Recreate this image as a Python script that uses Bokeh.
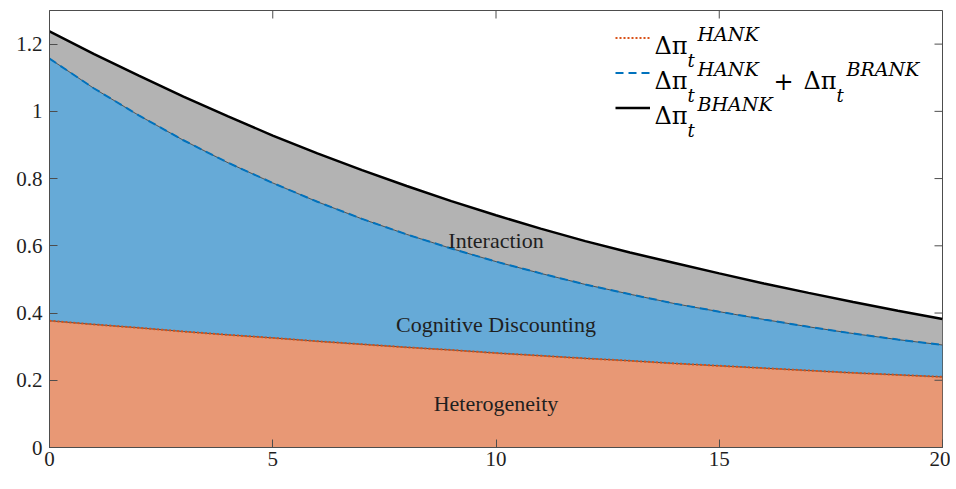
import math
from bokeh.plotting import figure
from bokeh.models import (Range1d, FixedTicker, LinearAxis, Legend, LegendItem,
                          Label, ColumnDataSource)
from bokeh.embed import file_html
from bokeh.resources import INLINE

# ---------------- data ----------------
t = list(range(0, 21))
hank = [0.377, 0.366, 0.356, 0.345, 0.335, 0.326, 0.316, 0.307, 0.298, 0.290,
        0.281, 0.273, 0.265, 0.258, 0.250, 0.243, 0.236, 0.229, 0.222, 0.216, 0.210]
hank_brank = [1.157, 1.068, 0.988, 0.914, 0.847, 0.787, 0.731, 0.680, 0.634, 0.592,
              0.553, 0.518, 0.485, 0.456, 0.428, 0.404, 0.381, 0.359, 0.339, 0.321, 0.305]
bhank = [1.238, 1.170, 1.106, 1.044, 0.985, 0.928, 0.875, 0.825, 0.778, 0.733,
         0.691, 0.651, 0.614, 0.580, 0.549, 0.518, 0.488, 0.460, 0.433, 0.407, 0.382]
base = [0.0] * len(t)

xticks = [0, 5, 10, 15, 20]
yticks = [0, 0.2, 0.4, 0.6, 0.8, 1, 1.2]
ytick_labels = ["0", "0.2", "0.4", "0.6", "0.8", "1", "1.2"]

area_labels = ["Heterogeneity", "Cognitive Discounting", "Interaction"]
area_label_x = [10, 10, 10]
area_label_y = [0.132, 0.365, 0.615]

# ---------------- styling ----------------
FW, FH = 893, 437
XMAX, YMAX = 20, 1.3
AX = "#4d4d4d"
TXT = "#1f1f1f"
TICK_FONT = "Liberation Serif, serif"
MATH_FONT = "DejaVu Serif, serif"

src = ColumnDataSource(dict(t=t, hank=hank, hb=hank_brank, bh=bhank, base=base))

p = figure(frame_width=FW, frame_height=FH,
           x_range=Range1d(0, XMAX), y_range=Range1d(0, YMAX),
           output_backend="svg", toolbar_location=None,
           min_border_left=49, min_border_right=8, min_border_top=10,
           min_border_bottom=34, x_axis_type=None, y_axis_type=None)
p.background_fill_color = "white"
p.border_fill_color = "white"
p.outline_line_color = AX
p.outline_line_width = 1
p.xgrid.visible = False
p.ygrid.visible = False


def style_axis(ax, ticks, standoff):
    ax.ticker = FixedTicker(ticks=ticks)
    ax.major_tick_in = 8
    ax.major_tick_out = 0
    ax.minor_tick_in = 0
    ax.minor_tick_out = 0
    ax.axis_line_color = AX
    ax.major_tick_line_color = AX
    ax.major_label_standoff = standoff
    ax.major_label_text_font = TICK_FONT
    ax.major_label_text_font_size = "21px"
    ax.major_label_text_color = TXT


xb = LinearAxis()
style_axis(xb, xticks, 4)
p.add_layout(xb, "below")
yl = LinearAxis()
style_axis(yl, yticks, 7)
yl.major_label_overrides = {k: v for k, v in zip(yticks, ytick_labels)}
p.add_layout(yl, "left")

# areas
p.varea(x="t", y1="base", y2="hank", source=src, fill_color="#E89875")
p.varea(x="t", y1="hank", y2="hb", source=src, fill_color="#66AAD7")
p.varea(x="t", y1="hb", y2="bh", source=src, fill_color="#B3B3B3")
# patch edges
p.line(x="t", y="hank", source=src, line_color="#333333", line_width=0.8)
p.line(x="t", y="hb", source=src, line_color="#333333", line_width=0.8)

# series lines
r_hank = p.line(x="t", y="hank", source=src, line_color="#D95319",
                line_width=2, line_dash="2 2")
r_hb = p.line(x="t", y="hb", source=src, line_color="#0072BD",
              line_width=2, line_dash="8 5")
r_bh = p.line(x="t", y="bh", source=src, line_color="#000000", line_width=2.5)

# inward ticks on the top and right edges of the box
p.ray(x=xticks, y=[YMAX] * len(xticks), length=8, length_units="screen",
      angle=-math.pi / 2, line_color=AX, line_width=1)
p.ray(x=[XMAX] * len(yticks), y=yticks, length=8, length_units="screen",
      angle=math.pi, line_color=AX, line_width=1)

# area labels
for txt, lx, ly in zip(area_labels, area_label_x, area_label_y):
    p.add_layout(Label(x=lx, y=ly, text=txt, text_font=TICK_FONT,
                       text_font_size="22px", text_color=TXT,
                       text_align="center", text_baseline="alphabetic"))

# legend (samples)
ROW = 35
LEG_TOP = 10
legend = Legend(items=[LegendItem(label=" ", renderers=[r_hank]),
                       LegendItem(label=" ", renderers=[r_hb]),
                       LegendItem(label=" ", renderers=[r_bh])],
                location=(566, FH - LEG_TOP - 3 * ROW),
                glyph_width=35, glyph_height=ROW, label_height=ROW,
                label_width=0, label_standoff=0, spacing=0, padding=0, margin=0,
                label_text_font_size="1px",
                background_fill_alpha=0, border_line_alpha=0)
p.add_layout(legend, "center")


def dx(px):
    return px / FW * XMAX


def dy(px):
    return YMAX * (1 - px / FH)


def mlabel(px, py, text, size, style="normal"):
    p.add_layout(Label(x=dx(px), y=dy(py), text=text, text_font=MATH_FONT,
                       text_font_size=size, text_font_style=style,
                       text_color="#000000", text_align="left",
                       text_baseline="alphabetic"))


sups = [["HANK"], ["HANK", "BRANK"], ["BHANK"]]
for r in range(3):
    cy = LEG_TOP + ROW * r + ROW / 2
    mlabel(605, cy + 7.5, "Δπ", "24px")
    mlabel(638, cy + 22, "t", "18px", "italic")
    mlabel(648, cy - 4.5, sups[r][0], "19px", "italic")
    if r == 1:
        mlabel(724, cy + 7.5, "+", "24px")
        mlabel(754, cy + 7.5, "Δπ", "24px")
        mlabel(787, cy + 22, "t", "18px", "italic")
        mlabel(797, cy - 4.5, sups[r][1], "19px", "italic")

open("out.html", "w").write(file_html(p, INLINE))
